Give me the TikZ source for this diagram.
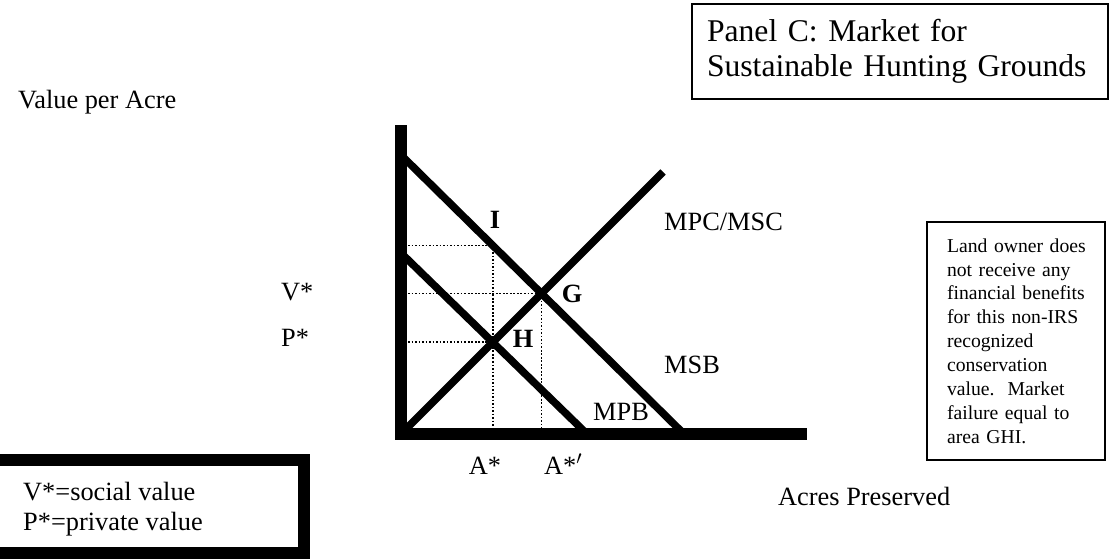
\documentclass[tikz,border=0pt]{standalone}
\usepackage{fontspec}
\setmainfont{Liberation Serif}
\usetikzlibrary{positioning}

\begin{document}
\begin{tikzpicture}[x=0.02cm,y=-0.02cm,
  lbl/.style={font=\fontsize{15}{18}\selectfont},
  pnt/.style={font=\fontsize{15}{18}\selectfont\bfseries},
  curve/.style={line width=4.3pt},
  guide/.style={line width=1pt,dash pattern=on 1pt off 1pt}]
\useasboundingbox (0,0) rectangle (1119,558);
%опорные точки осей и кривых
\coordinate (O) at (401,434);
\coordinate (Ytop) at (401,125);
\coordinate (Xend) at (807,434);
\coordinate (msbA) at (401,155);
\coordinate (msbB) at (684,434);
\coordinate (mpcB) at (663,172);
\coordinate (mpbA) at (401,253);
\coordinate (mpbB) at (587,434);
%точки G, H, I
\coordinate (G) at (intersection of msbA--msbB and O--mpcB);
\coordinate (H) at (intersection of mpbA--mpbB and O--mpcB);
\coordinate (Htop) at (H |- Ytop);
\coordinate (I) at (intersection of msbA--msbB and H--Htop);
%кривые
\draw[curve] (msbA) -- (msbB);
\draw[curve] (O) -- (mpcB);
\draw[curve] (mpbA) -- (mpbB);
%оси
\draw[line width=6.3pt] (Ytop) -- (O) -- (Xend);
%пунктир
\draw[guide] (O |- I) -- (I) -- (I |- O);
\draw[guide] (O |- G) -- (G) -- (G |- O);
\draw[guide] (O |- H) -- (H);
%подписи
\node[pnt] (lblI) at (495,220) {I};
\node[pnt] (lblG) at (572,294) {G};
\node[pnt] (lblH) at (523,339) {H};
\node[lbl,anchor=base west] (lblMPC) at (658,230) {MPC/MSC};
\node[lbl,anchor=base west] (lblMSB) at (658,373) {MSB};
\node[lbl,anchor=base west] (lblMPB) at (587,420) {MPB};
\node[lbl,anchor=base west] (lblV) at (275,300) {V*};
\node[lbl,anchor=base west] (lblP) at (275,346) {P*};
\node[lbl,anchor=base] (lblA) at (485,474) {A*};
\node[lbl,anchor=base west] (lblAp) at (538,474) {A*$'$};
\node[lbl,anchor=base west] (yname) at (12,108) {Value per Acre};
\node[lbl,anchor=base west] (xname) at (772,505) {Acres Preserved};
%рамки
\node[draw,line width=1pt,minimum width=8.32cm,minimum height=1.9cm,
  inner xsep=0.3cm,text width=7.72cm,align=left,
  font=\fontsize{18}{20}\selectfont] (panel) at (900,51.5)
  {Panel C: Market for\\Sustainable Hunting Grounds};
\node[draw,line width=1pt,minimum width=3.56cm,minimum height=4.76cm,
  inner xsep=0.4cm,text width=2.76cm,align=left,
  font=\fontsize{11.2}{13.6}\selectfont] (note) at (1016,341)
  {\mbox{Land owner does}\\not receive any\\\mbox{financial benefits}\\for this non-IRS\\recognized\\conservation\\value.\ \ Market\\failure equal to\\area GHI.};
\draw[line width=6.8pt] (-20,460) rectangle (304,553);
\node[lbl,anchor=base west] (defV) at (17,500) {V*=social value};
\node[lbl,anchor=base west] (defP) at (17,530) {P*=private value};
\end{tikzpicture}
\end{document}
